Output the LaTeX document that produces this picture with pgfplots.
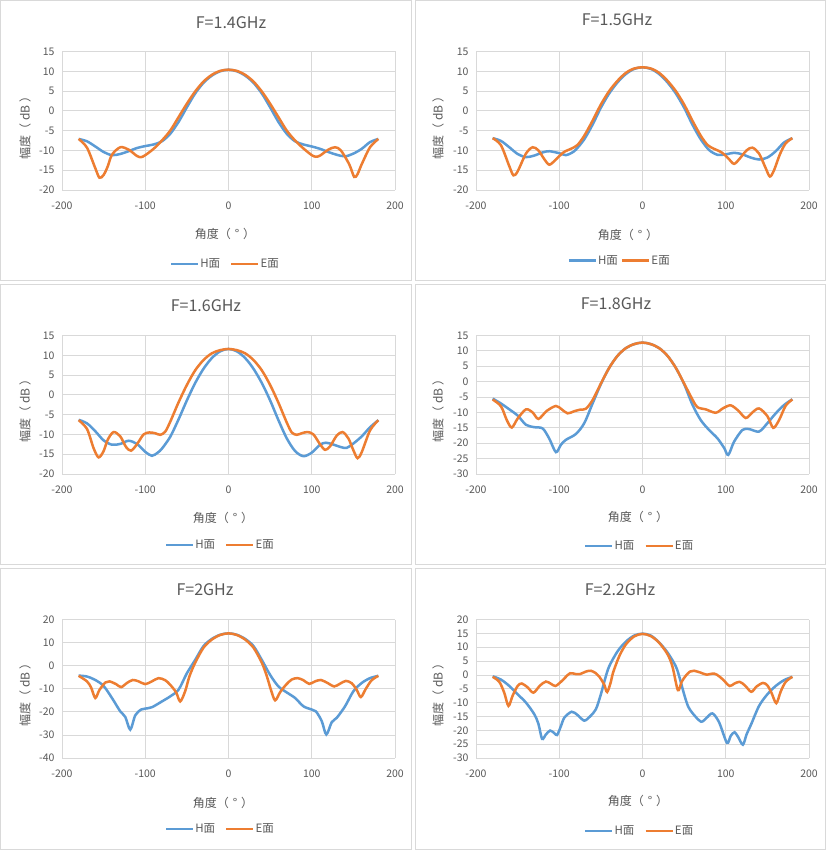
\documentclass[border=0pt]{standalone}
\usepackage{pgfplots}
\pgfplotsset{compat=1.18}
\usepackage{fontspec}
\setmainfont{Noto Sans CJK SC}
\definecolor{hblue}{HTML}{5B9BD5}
\definecolor{eorange}{HTML}{ED7D31}
\definecolor{txt}{HTML}{595959}
\definecolor{gridc}{HTML}{D9D9D9}
\pgfplotsset{panel/.style={
  scale only axis, width=333pt, height=138.5pt, anchor=south west,
  xmin=-200, xmax=200, xtick={-200,-100,0,100,200},
  grid=major, major grid style={gridc, line width=0.8pt},
  axis line style={draw=none}, tick style={draw=none},
  ticklabel style={font=\fontsize{10.5}{12}\selectfont, text=txt},
  /pgf/number format/assume math mode=true,
  xticklabel style={yshift=-8pt},
  yticklabel style={xshift=-4pt},
  legend style={draw=none, fill=none, font=\fontsize{11.5}{13}\selectfont, text=txt,
    legend columns=-1, anchor=center, inner sep=0pt,
    nodes={inner sep=1pt},
    /tikz/every even column/.append style={column sep=9pt}},
  legend image code/.code={\draw[#1, line width=2.5pt] (0pt,0pt) -- (27pt,0pt);},
  every axis plot/.append style={smooth, line width=2.5pt, no markers},
  clip=false
}}
\begin{document}
\begin{tikzpicture}[x=1pt,y=1pt]
\path[use as bounding box, fill=white] (0,0) rectangle (826,850);
\begin{scope}[gridc, line width=1pt]
\draw (0.5,569.3) rectangle (411.7,849.5);
\draw (415,569.3) rectangle (825.5,849.5);
\draw (0.5,285) rectangle (411.7,565.7);
\draw (415,285) rectangle (825.5,565.7);
\draw (0.5,0.5) rectangle (411.7,281.7);
\draw (415,0.5) rectangle (825.5,281.7);
\end{scope}

% ---------- P1 : 1.4 GHz
\begin{axis}[panel, at={(62pt,660pt)}, ymin=-20, ymax=15, ytick={-20,-15,...,15},
  legend style={at={(0.489,-0.534)}}]
\addplot[hblue] coordinates {(-180,-7.1) (-170,-7.7) (-160,-9.0) (-150,-10.4) (-140,-11.2) (-130,-10.9) (-120,-10.2) (-110,-9.4) (-100,-8.9) (-90,-8.5) (-80,-7.7) (-70,-5.8) (-60,-2.8) (-50,0.9) (-40,4.4) (-30,7.1) (-20,8.9) (-10,10.0) (0,10.4) (10,10.0) (20,8.9) (30,7.1) (40,4.4) (50,0.9) (60,-2.8) (70,-5.8) (80,-7.7) (90,-8.5) (100,-9.0) (110,-9.6) (120,-10.4) (130,-11.1) (140,-11.5) (150,-10.8) (160,-9.6) (170,-7.9) (180,-7.1)};
\addlegendentry{H面}
\addplot[eorange] coordinates {(-180,-7.1) (-170,-9.3) (-160,-14.5) (-155,-16.9) (-150,-16.2) (-145,-14.0) (-140,-11.1) (-130,-9.2) (-120,-9.8) (-110,-11.4) (-105,-11.7) (-100,-11.2) (-90,-9.6) (-80,-7.5) (-70,-5.0) (-60,-1.6) (-50,1.8) (-40,4.9) (-30,7.4) (-20,9.1) (-10,10.1) (0,10.4) (10,10.1) (20,9.1) (30,7.4) (40,4.9) (50,1.8) (60,-1.6) (70,-5.0) (80,-7.5) (90,-9.5) (100,-11.2) (105,-11.6) (110,-11.3) (120,-9.8) (128,-9.2) (135,-10.0) (145,-13.5) (151,-16.7) (155,-16.0) (160,-13.5) (170,-9.2) (180,-7.1)};
\addlegendentry{E面}
\end{axis}

% ---------- P2 : 1.5 GHz
\begin{axis}[panel, at={(476pt,660pt)}, ymin=-20, ymax=15, ytick={-20,-15,...,15},
  legend style={at={(0.43,-0.51)}, /tikz/every even column/.append style={column sep=2pt}}]
\addplot[hblue] coordinates {(-180,-6.9) (-170,-7.6) (-160,-9.2) (-150,-10.9) (-140,-11.7) (-130,-11.3) (-120,-10.5) (-112,-10.2) (-100,-10.7) (-92,-11.2) (-85,-10.6) (-80,-9.8) (-70,-7.2) (-60,-3.5) (-50,0.8) (-40,4.4) (-30,7.2) (-20,9.3) (-10,10.6) (0,11.0) (10,10.6) (20,9.3) (30,7.2) (40,4.4) (50,0.8) (60,-3.5) (70,-7.2) (80,-9.9) (90,-11.1) (100,-11.0) (110,-10.6) (120,-11.0) (130,-11.8) (140,-12.3) (150,-11.8) (160,-10.2) (170,-8.0) (180,-6.9)};
\addlegendentry{H面}
\addplot[eorange] coordinates {(-180,-6.9) (-170,-8.7) (-160,-14.0) (-155,-16.3) (-150,-15.3) (-140,-10.8) (-132,-9.2) (-125,-10.0) (-118,-12.2) (-112,-13.6) (-105,-12.5) (-95,-10.5) (-85,-9.5) (-78,-8.6) (-70,-6.3) (-60,-2.5) (-50,1.6) (-40,5.0) (-30,7.6) (-20,9.6) (-10,10.7) (0,11.0) (10,10.7) (20,9.6) (30,7.6) (40,5.0) (50,1.6) (60,-2.5) (70,-6.3) (78,-8.6) (85,-9.5) (95,-10.5) (103,-12.0) (110,-13.4) (117,-12.0) (125,-10.0) (132,-9.3) (140,-10.8) (148,-14.5) (153,-16.6) (158,-15.0) (165,-11.0) (172,-8.2) (180,-6.9)};
\addlegendentry{E面}
\end{axis}

% ---------- P3 : 1.6 GHz
\begin{axis}[panel, at={(62pt,376pt)}, ymin=-20, ymax=15, ytick={-20,-15,...,15},
  legend style={at={(0.474,-0.513)}}]
\addplot[hblue] coordinates {(-180,-6.3) (-170,-7.2) (-160,-9.2) (-150,-11.5) (-140,-12.6) (-130,-12.4) (-120,-11.6) (-110,-12.4) (-100,-14.4) (-92,-15.4) (-85,-14.6) (-80,-13.6) (-70,-10.6) (-60,-6.2) (-50,-1.4) (-40,3.0) (-30,6.6) (-20,9.3) (-10,11.0) (0,11.6) (10,11.0) (20,9.3) (30,6.6) (40,3.0) (50,-1.4) (60,-6.4) (70,-11.0) (80,-14.2) (90,-15.5) (100,-14.6) (110,-12.6) (117,-12.1) (125,-12.5) (135,-13.2) (142,-13.4) (150,-12.3) (160,-10.5) (170,-8.2) (180,-6.4)};
\addlegendentry{H面}
\addplot[eorange] coordinates {(-180,-6.4) (-170,-8.6) (-162,-13.5) (-156,-15.8) (-150,-14.2) (-145,-11.3) (-138,-9.4) (-130,-10.5) (-123,-13.2) (-117,-14.1) (-110,-12.5) (-102,-10.0) (-95,-9.5) (-88,-9.7) (-82,-10.1) (-76,-9.3) (-70,-6.8) (-60,-1.9) (-50,2.5) (-40,6.2) (-30,8.8) (-20,10.5) (-10,11.3) (0,11.6) (10,11.3) (20,10.5) (30,8.8) (40,6.2) (50,2.5) (60,-2.0) (70,-7.0) (76,-9.5) (82,-10.1) (88,-9.7) (95,-9.4) (102,-10.0) (110,-12.5) (116,-13.9) (122,-13.0) (130,-10.3) (137,-9.4) (144,-11.0) (150,-14.0) (155,-16.0) (160,-14.5) (170,-9.0) (180,-6.4)};
\addlegendentry{E面}
\end{axis}

% ---------- P4 : 1.8 GHz
\begin{axis}[panel, at={(476pt,376pt)}, ymin=-30, ymax=15, ytick={-30,-25,...,15},
  legend style={at={(0.49,-0.52)}}]
\addplot[hblue] coordinates {(-180,-5.5) (-170,-7.1) (-160,-9.0) (-150,-11.0) (-140,-14.0) (-130,-14.8) (-120,-15.2) (-112,-18.5) (-104,-22.9) (-98,-20.5) (-92,-18.9) (-80,-17.0) (-70,-13.5) (-60,-7.1) (-50,-0.8) (-40,4.5) (-30,8.4) (-20,10.9) (-10,12.2) (0,12.7) (10,12.2) (20,10.9) (30,8.4) (40,4.5) (50,-0.8) (60,-7.5) (70,-12.5) (80,-15.7) (90,-18.4) (98,-21.5) (103,-23.8) (110,-19.5) (120,-15.7) (128,-15.4) (140,-16.2) (150,-13.5) (160,-10.3) (170,-7.6) (180,-5.7)};
\addlegendentry{H面}
\addplot[eorange] coordinates {(-180,-5.8) (-170,-8.0) (-163,-12.5) (-157,-14.9) (-150,-12.0) (-140,-9.0) (-132,-10.0) (-125,-12.1) (-115,-9.5) (-104,-7.9) (-97,-9.0) (-90,-10.3) (-82,-9.6) (-75,-9.1) (-68,-8.8) (-60,-6.0) (-50,-0.6) (-40,4.5) (-30,8.4) (-20,10.9) (-10,12.2) (0,12.7) (10,12.2) (20,10.9) (30,8.4) (40,4.5) (50,-0.6) (60,-5.8) (66,-8.3) (76,-9.0) (88,-10.1) (97,-8.6) (106,-7.7) (115,-9.4) (124,-11.8) (132,-10.0) (140,-8.7) (150,-11.2) (157,-15.0) (164,-12.5) (172,-7.8) (180,-5.8)};
\addlegendentry{E面}
\end{axis}

% ---------- P5 : 2 GHz
\begin{axis}[panel, at={(62pt,92pt)}, ymin=-40, ymax=20, ytick={-40,-30,...,20},
  legend style={at={(0.474,-0.513)}}]
\addplot[hblue] coordinates {(-180,-4.3) (-170,-4.7) (-160,-6.2) (-150,-8.8) (-140,-14.0) (-130,-19.8) (-124,-22.2) (-118,-27.7) (-112,-21.5) (-105,-19.0) (-100,-18.6) (-92,-18.0) (-80,-15.5) (-70,-13.3) (-60,-10.4) (-50,-3.3) (-40,2.5) (-30,8.5) (-20,11.6) (-10,13.4) (0,14.0) (10,13.4) (20,11.6) (30,8.5) (40,2.5) (50,-4.0) (60,-9.0) (70,-11.6) (80,-14.0) (90,-17.6) (100,-19.0) (105,-19.8) (112,-24.0) (117.5,-29.8) (124,-24.5) (130,-22.6) (140,-17.6) (150,-11.1) (160,-7.5) (170,-5.4) (180,-4.4)};
\addlegendentry{H面}
\addplot[eorange] coordinates {(-180,-4.4) (-170,-6.8) (-165,-9.5) (-160,-14.0) (-155,-10.5) (-148,-7.3) (-143,-6.8) (-135,-8.0) (-129,-9.3) (-122,-7.5) (-115,-6.2) (-108,-6.8) (-100,-8.0) (-92,-6.8) (-84,-5.4) (-76,-6.3) (-70,-8.3) (-63,-11.5) (-58,-15.5) (-52,-11.0) (-47,-4.7) (-40,1.3) (-30,7.8) (-20,11.3) (-10,13.3) (0,14.0) (10,13.3) (20,11.3) (30,7.8) (40,1.3) (46,-4.5) (51,-10.5) (56,-15.0) (62,-11.5) (69,-8.3) (76,-6.0) (83,-5.4) (90,-6.3) (97,-7.9) (104,-6.8) (111,-6.2) (119,-7.5) (127,-9.0) (134,-7.8) (141,-6.6) (148,-7.6) (154,-10.5) (159,-13.6) (165,-10.0) (172,-6.3) (180,-4.4)};
\addlegendentry{E面}
\end{axis}

% ---------- P6 : 2.2 GHz
\begin{axis}[panel, at={(476pt,92pt)}, ymin=-30, ymax=20, ytick={-30,-25,...,20},
  legend style={at={(0.49,-0.527)}}]
\addplot[hblue] coordinates {(-180,-0.5) (-170,-1.7) (-160,-4.0) (-150,-7.0) (-140,-10.0) (-130,-14.2) (-125,-17.7) (-120.6,-23.1) (-116,-21.5) (-111,-20.1) (-106,-21.0) (-102.6,-21.7) (-98,-18.5) (-93.8,-15.4) (-85,-13.3) (-78,-14.5) (-70,-16.5) (-63,-15.0) (-56,-12.4) (-50,-7.0) (-45,-1.5) (-40,3.1) (-30,8.5) (-20,12.0) (-10,14.2) (0,14.9) (10,14.2) (20,11.7) (30,8.1) (40,3.1) (45,-1.5) (50,-7.0) (55,-11.5) (62,-14.5) (70.5,-16.9) (77,-15.5) (84,-13.9) (92,-17.1) (101.4,-24.5) (106,-22.0) (110.6,-20.7) (115,-22.5) (120.6,-25.2) (125,-21.5) (130.7,-17.7) (140,-11.2) (150,-7.0) (160,-4.0) (170,-1.9) (180,-0.7)};
\addlegendentry{H面}
\addplot[eorange] coordinates {(-180,-0.7) (-172,-2.5) (-166,-6.5) (-161,-11.2) (-156,-7.5) (-150,-4.0) (-145,-3.1) (-138,-4.5) (-131,-6.4) (-123,-3.8) (-116,-2.4) (-110,-3.2) (-104.6,-4.0) (-98,-2.5) (-93,-1.0) (-87,0.6) (-80,0.3) (-75,0.3) (-68,1.2) (-62,1.5) (-56,0.6) (-52,-0.6) (-46,-3.5) (-42.5,-6.2) (-38,-2.5) (-35.5,0.7) (-28,6.7) (-20,11.0) (-10,13.9) (0,14.8) (10,14.0) (20,11.6) (30,7.5) (36,3.0) (42.5,-5.5) (47,-2.5) (52,-0.3) (57,1.2) (62,1.5) (70,0.8) (77,0.1) (86,0.5) (92,-0.5) (97,-1.8) (104.6,-4.0) (110,-3.2) (116.6,-2.5) (123,-3.8) (130.7,-6.1) (137,-4.2) (144.7,-2.9) (150,-3.8) (155,-6.5) (160.7,-10.2) (166,-6.0) (172,-2.5) (180,-0.7)};
\addlegendentry{E面}
\end{axis}

% ---------- titles and labels
\begin{scope}[every node/.style={text=txt}]
\node[font=\fontsize{16}{18}\selectfont] at (231,827) {F=1.4GHz};
\node[font=\fontsize{16}{18}\selectfont] at (617,830) {F=1.5GHz};
\node[font=\fontsize{16}{18}\selectfont] at (206,544) {F=1.6GHz};
\node[font=\fontsize{16}{18}\selectfont] at (616,546) {F=1.8GHz};
\node[font=\fontsize{16}{18}\selectfont] at (205,260) {F=2GHz};
\node[font=\fontsize{16}{18}\selectfont] at (620,260) {F=2.2GHz};
\foreach \x/\y in {25/725, 438/725, 25/442, 438/442, 25/158, 438/158}
  \node[font=\fontsize{12}{14}\selectfont, rotate=90] at (\x,\y) {幅度（\hspace{2.5pt}dB\hspace{2.5pt}）};
\foreach \x/\y in {225/616, 628/615, 223/332, 638/333, 223/47, 638/49}
  \node[font=\fontsize{12}{14}\selectfont] at (\x,\y) {角度（\hspace{4pt}°\hspace{4pt}）};
\end{scope}
\end{tikzpicture}
\end{document}
